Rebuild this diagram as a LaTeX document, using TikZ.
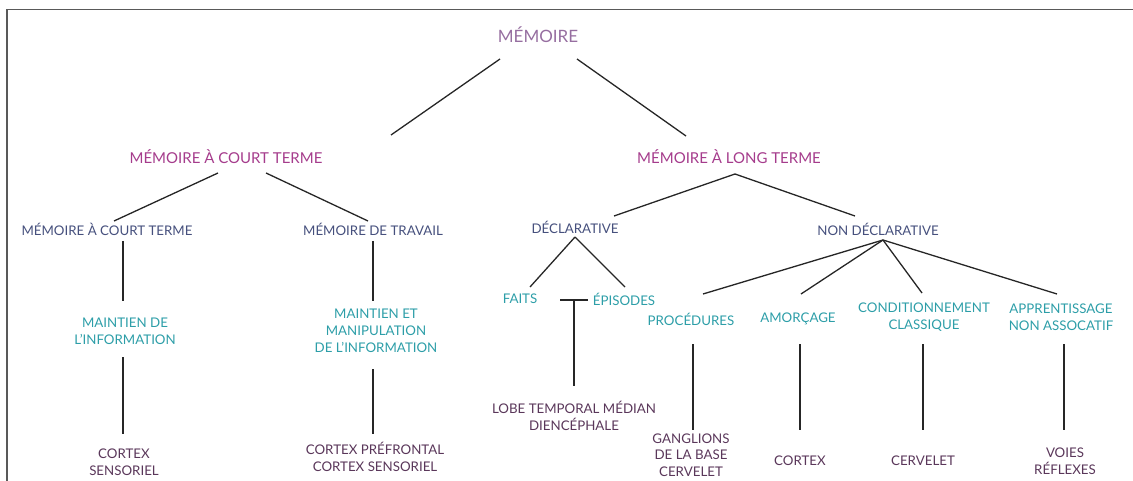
\documentclass[tikz,border=0pt]{standalone}
\usepackage{fontspec}
\setmainfont{Lato}
\definecolor{memtop}{RGB}{150,110,160}
\definecolor{memtwo}{RGB}{165,60,140}
\definecolor{memthree}{RGB}{70,80,125}
\definecolor{memfour}{RGB}{45,158,168}
\definecolor{memfive}{RGB}{90,55,90}
\begin{document}
    \begin{tikzpicture}[x=1pt,y=-1pt,
        every node/.style={align=center,inner sep=0pt},
        toplabel/.style={text=memtop,font=\fontsize{17}{20}\selectfont},
        termlabel/.style={text=memtwo,font=\fontsize{15}{18}\selectfont},
        kindlabel/.style={text=memthree,font=\fontsize{13.3}{17}\selectfont},
        rolelabel/.style={text=memfour,font=\fontsize{13.3}{17}\selectfont},
        sitelabel/.style={text=memfive,font=\fontsize{13.3}{17.5}\selectfont},
        link/.style={draw=black!85,line width=1.3pt},
        frameline/.style={draw=black!65,line width=1.8pt}]
        \useasboundingbox (0,0) rectangle (1133,481);
        \draw[frameline] (7,481) -- (7,9.5) -- (1133,9.5);
        \node[toplabel] (mem) at (538,35) {MÉMOIRE};
        \node[termlabel] (mct) at (226,157) {MÉMOIRE À COURT TERME};
        \node[termlabel] (mlt) at (729,157) {MÉMOIRE À LONG TERME};
        \node[kindlabel] (ctm) at (107,229) {MÉMOIRE À COURT TERME};
        \node[kindlabel] (trav) at (373,229) {MÉMOIRE DE TRAVAIL};
        \node[kindlabel] (decl) at (575,227) {DÉCLARATIVE};
        \node[kindlabel] (ndecl) at (878,229) {NON DÉCLARATIVE};
        \node[rolelabel] (maint) at (125,331) {MAINTIEN DE\\L’INFORMATION};
        \node[rolelabel] (manip) at (376,331) {MAINTIEN ET\\MANIPULATION\\DE L’INFORMATION};
        \node[rolelabel] (faits) at (520,299) {FAITS};
        \node[rolelabel] (epis) at (624,299) {ÉPISODES};
        \node[rolelabel] (proc) at (691,319) {PROCÉDURES};
        \node[rolelabel] (amor) at (798,319) {AMORÇAGE};
        \node[rolelabel] (cond) at (924,317) {CONDITIONNEMENT\\CLASSIQUE};
        \node[rolelabel] (appr) at (1061,317) {APPRENTISSAGE\\NON ASSOCATIF};
        \node[sitelabel] (cortS) at (124,462) {CORTEX\\SENSORIEL};
        \node[sitelabel] (cortP) at (375,457) {CORTEX PRÉFRONTAL\\CORTEX SENSORIEL};
        \node[sitelabel] (lobe) at (574,416) {LOBE TEMPORAL MÉDIAN\\DIENCÉPHALE};
        \node[sitelabel,font=\fontsize{13.3}{16.5}\selectfont] (gang) at (691,455) {GANGLIONS\\DE LA BASE\\CERVELET};
        \node[sitelabel] (cortex) at (800,461) {CORTEX};
        \node[sitelabel] (cerv) at (923,461) {CERVELET};
        \node[sitelabel] (voies) at (1065,461) {VOIES\\RÉFLEXES};
        \coordinate (bar) at ([shift={(54,1)}]faits.center);
        \draw[link] ([shift={(-38,24)}]mem.center) -- ([shift={(165,-22)}]mct.center);
        \draw[link] ([shift={(39,24)}]mem.center) -- ([shift={(-43,-21)}]mlt.center);
        \draw[link] ([shift={(-8,16)}]mct.center) -- ([shift={(7,-8)}]ctm.center);
        \draw[link] ([shift={(40,16)}]mct.center) -- ([shift={(-5,-8)}]trav.center);
        \draw[link] ([shift={(6,17)}]mlt.center) -- ([shift={(39,-11)}]decl.center);
        \draw[link] ([shift={(6,17)}]mlt.center) -- ([shift={(-23,-13)}]ndecl.center);
        \draw[link] ([shift={(16,12)}]ctm.center) -- ([shift={(-2,-30)}]maint.center);
        \draw[link] ([shift={(-2,26)}]maint.center) -- ([shift={(-1,-28)}]cortS.center);
        \draw[link] ([shift={(0,12)}]trav.center) -- ([shift={(-3,-30)}]manip.center);
        \draw[link] ([shift={(-3,38)}]manip.center) -- ([shift={(-2,-23)}]cortP.center);
        \draw[link] ([shift={(0,10)}]decl.center) -- ([shift={(10,-12)}]faits.center);
        \draw[link] ([shift={(0,10)}]decl.center) -- ([shift={(1,-12)}]epis.center);
        \draw[link] ([shift={(40,1)}]faits.center) -- ([shift={(-36,1)}]epis.center);
        \draw[link] (bar) -- ([shift={(0,-30)}]lobe.center);
        \draw[link] ([shift={(5,11)}]ndecl.center) -- ([shift={(12,-25)}]proc.center);
        \draw[link] ([shift={(5,11)}]ndecl.center) -- ([shift={(3,-25)}]amor.center);
        \draw[link] ([shift={(5,11)}]ndecl.center) -- ([shift={(-2,-24)}]cond.center);
        \draw[link] ([shift={(5,11)}]ndecl.center) -- ([shift={(-4,-23)}]appr.center);
        \draw[link] ([shift={(2,25)}]proc.center) -- ([shift={(2,-25)}]gang.center);
        \draw[link] ([shift={(2,25)}]amor.center) -- ([shift={(0,-31)}]cortex.center);
        \draw[link] ([shift={(-1,27)}]cond.center) -- ([shift={(0,-31)}]cerv.center);
        \draw[link] ([shift={(3,27)}]appr.center) -- ([shift={(-1,-31)}]voies.center);
    \end{tikzpicture}
\end{document}
